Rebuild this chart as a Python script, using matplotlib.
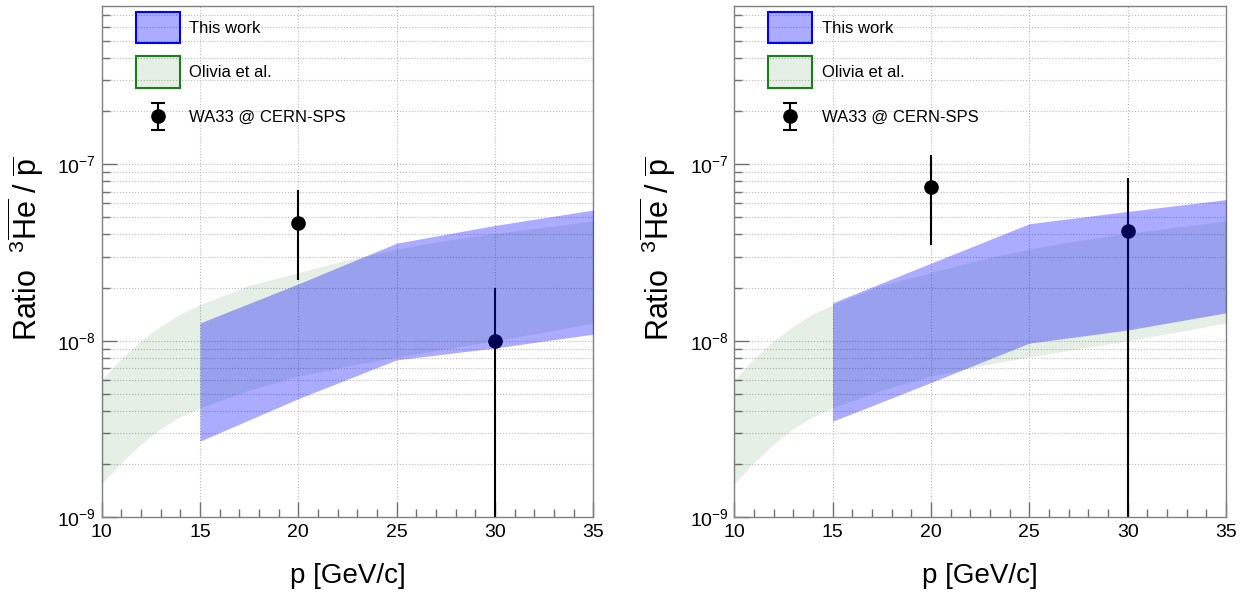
import numpy as np
import matplotlib
matplotlib.use("Agg")
import matplotlib.pyplot as plt
from matplotlib.patches import Patch
from matplotlib.legend_handler import HandlerErrorbar
from matplotlib.ticker import FixedLocator, MultipleLocator, NullFormatter

plt.rcParams['font.family'] = ['Liberation Sans', 'DejaVu Sans']
plt.rcParams['mathtext.fontset'] = 'custom'
plt.rcParams['mathtext.rm'] = 'Liberation Sans'
plt.rcParams['mathtext.it'] = 'Liberation Sans:italic'
plt.rcParams['mathtext.bf'] = 'Liberation Sans:bold'

# Olivia et al. band, same curve in both panels
olivia_p = [10, 11, 12, 13, 14, 15, 17.5, 20, 22.5, 25, 27.5, 30, 32.5, 35]
olivia_lo = [1.55e-9, 2.04e-9, 2.6e-9, 3.18e-9, 3.72e-9, 4.17e-9, 5.25e-9, 6.3e-9,
             7.2e-9, 8.1e-9, 9.0e-9, 1.0e-8, 1.12e-8, 1.26e-8]
olivia_hi = [6.0e-9, 7.94e-9, 1.0e-8, 1.21e-8, 1.42e-8, 1.6e-8, 2.06e-8, 2.43e-8,
             2.88e-8, 3.3e-8, 3.7e-8, 4.05e-8, 4.4e-8, 4.77e-8]

# this work, left and right panels
work_p = [15, 20, 25, 30, 35]
work_lo_left = [2.7e-9, 4.7e-9, 7.8e-9, 9.1e-9, 1.09e-8]
work_hi_left = [1.26e-8, 2.1e-8, 3.57e-8, 4.5e-8, 5.5e-8]
work_lo_right = [3.5e-9, 5.8e-9, 9.7e-9, 1.15e-8, 1.44e-8]
work_hi_right = [1.64e-8, 2.75e-8, 4.6e-8, 5.4e-8, 6.3e-8]

# WA33 @ CERN-SPS points
wa33_p = [20, 30]
wa33_left = [4.65e-8, 1.0e-8]
wa33_err_left = [2.45e-8, 1.0e-8]
wa33_right = [7.4e-8, 4.2e-8]
wa33_err_right = [3.9e-8, 4.2e-8]

blue_fill = (0, 0, 1, 0.33)
green_fill = (0, 0.4, 0, 0.1)

y_major = [1e-9, 1e-8, 1e-7]
y_minor = [m * d for d in (1e-9, 1e-8, 1e-7) for m in range(2, 10) if m * d < 7.9e-7]


class CenteredErrorbar(HandlerErrorbar):
    # keep the marker at the middle of the patch-sized handle box
    def create_artists(self, legend, orig_handle, xdescent, ydescent,
                       width, height, fontsize, trans):
        return super().create_artists(legend, orig_handle, xdescent, 2 * ydescent,
                                      width, height, fontsize, trans)


fig = plt.figure(figsize=(12.52, 5.95), dpi=100)
ax_l = fig.add_axes([0.0812, 0.1306, 0.3927, 0.8598])
ax_r = fig.add_axes([0.5865, 0.1306, 0.3927, 0.8598])

def draw(ax, lo, hi, val, err):
    ax.set_yscale('log')
    ax.set_xlim(10, 35)
    ax.set_ylim(1e-9, 7.9e-7)

    ax.errorbar(wa33_p, val, yerr=err, fmt='o', color='black', ms=9.5,
                elinewidth=1.5, capsize=0, zorder=2)
    ax.fill_between(olivia_p, olivia_lo, olivia_hi, color=green_fill, lw=0, zorder=3)
    ax.fill_between(work_p, lo, hi, color=blue_fill, lw=0, zorder=4)

    ax.xaxis.set_major_locator(MultipleLocator(5))
    ax.xaxis.set_minor_locator(MultipleLocator(1))
    ax.yaxis.set_major_locator(FixedLocator(y_major))
    ax.yaxis.set_minor_locator(FixedLocator(y_minor))
    ax.yaxis.set_minor_formatter(NullFormatter())

    ax.tick_params(which='both', direction='in', color='#707070', top=False, right=False)
    ax.tick_params(which='major', length=11, width=1, labelsize=14, pad=4)
    ax.tick_params(which='minor', length=5.5, width=1)
    ax.tick_params(axis='x', which='major', pad=5)

    ax.grid(True, which='both', axis='y', ls=':', color='#b8b8b8', lw=0.8, zorder=0)
    ax.grid(True, which='major', axis='x', ls=':', color='#b8b8b8', lw=0.8, zorder=0)
    ax.set_axisbelow(True)
    for s in ax.spines.values():
        s.set_color('#808080')
        s.set_linewidth(1.0)

    ax.set_xlabel('p [GeV/c]', fontsize=20)
    ax.xaxis.set_label_coords(0.5, -0.09)
    ax.set_ylabel(r'Ratio  $^{3}\overline{\mathrm{He}}$ / $\overline{\mathrm{p}}$', fontsize=22)
    ax.yaxis.set_label_coords(-0.112, 0.525)

    # legend: proxy patches and a nan errorbar for the point style
    pt = ax.errorbar([np.nan], [np.nan], yerr=[np.nan], fmt='o', color='black', ms=9.5,
                     elinewidth=1.5, capsize=5, capthick=1.5)
    handles = [Patch(facecolor=blue_fill, edgecolor='#0000ff', lw=1.5),
               Patch(facecolor=green_fill, edgecolor='#1a7f1a', lw=1.5),
               pt]
    labels = ['This work', 'Olivia et al.', 'WA33 @ CERN-SPS']
    ax.legend(handles, labels, loc='upper left', bbox_to_anchor=(0.069, 0.988),
              frameon=False, fontsize=12, handlelength=2.65, handleheight=2.5,
              handletextpad=0.55, labelspacing=0.8, borderpad=0, borderaxespad=0,
              handler_map={pt: CenteredErrorbar(xerr_size=0.8)})

draw(ax_l, work_lo_left, work_hi_left, wa33_left, wa33_err_left)
draw(ax_r, work_lo_right, work_hi_right, wa33_right, wa33_err_right)

fig.savefig('out.png', dpi=100)
